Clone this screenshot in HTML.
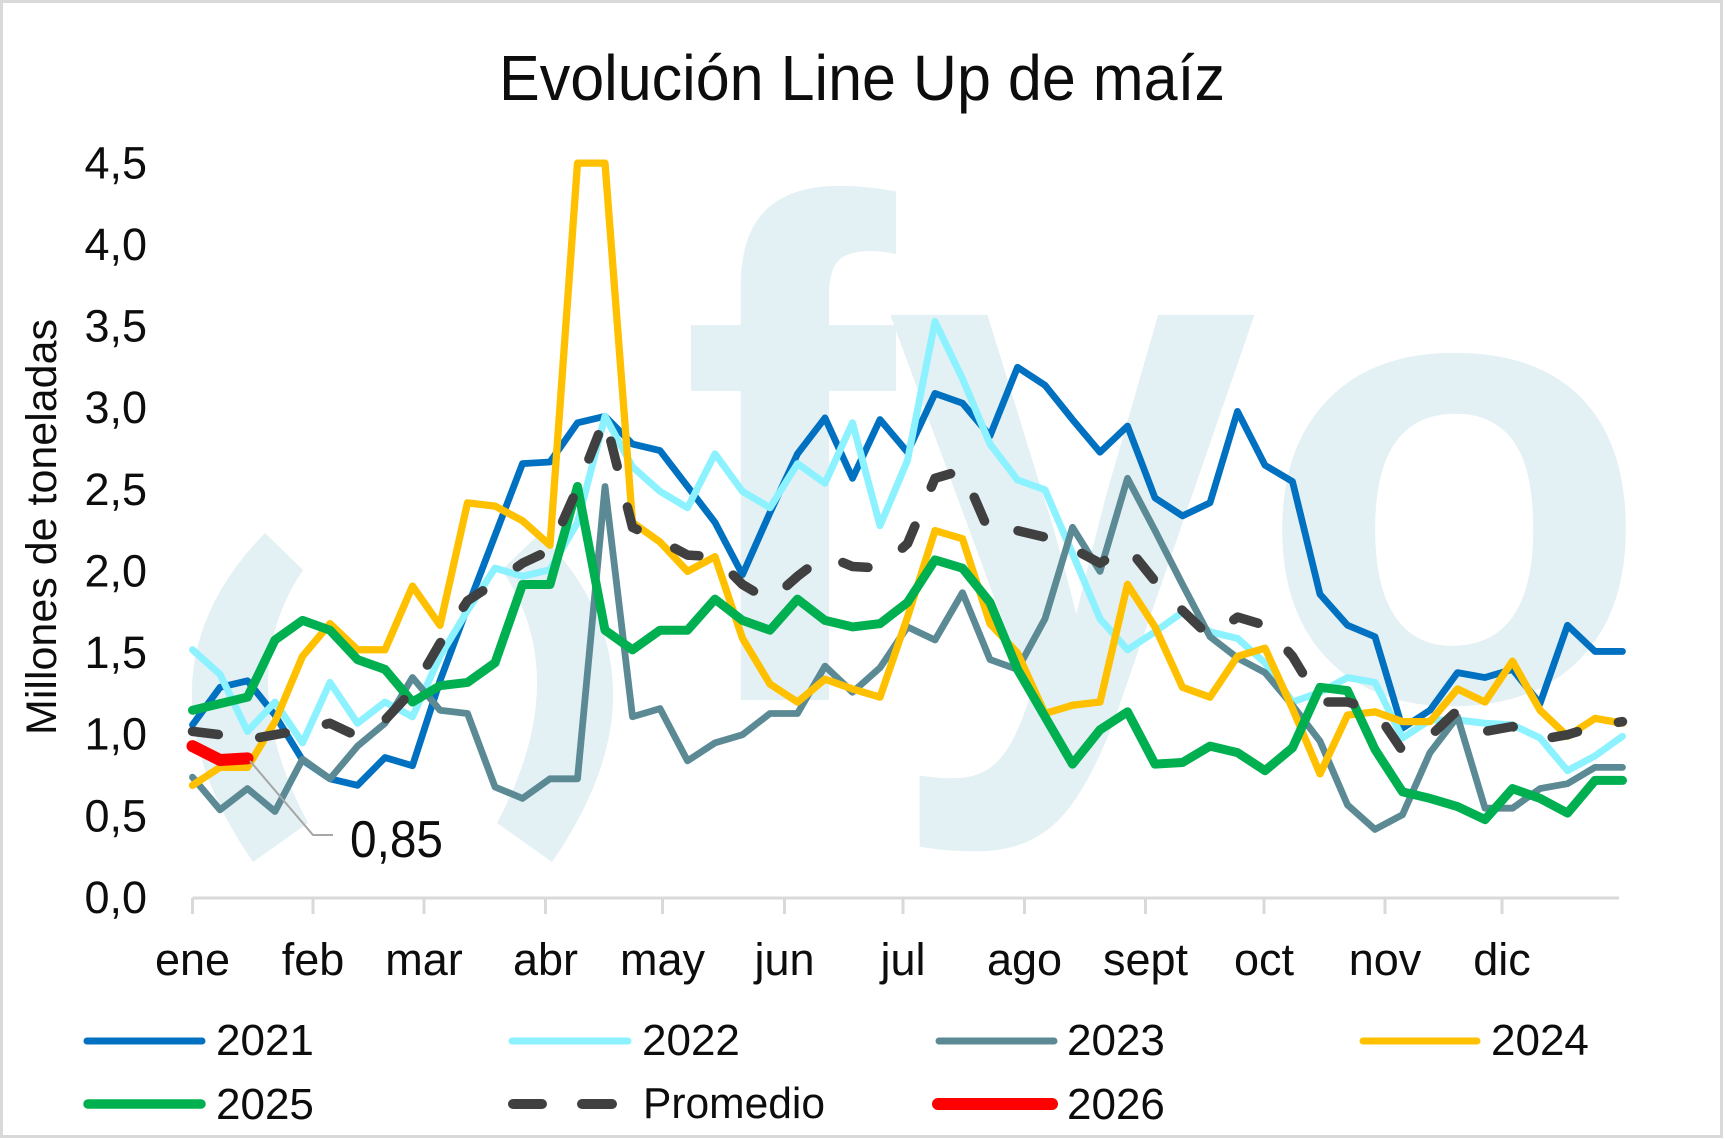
<!DOCTYPE html>
<html>
<head>
<meta charset="utf-8">
<style>
html,body{margin:0;padding:0;background:#fff;}
svg{display:block;}
text{font-family:"Liberation Sans","DejaVu Sans",sans-serif;fill:#0d0d0d;}
</style>
</head>
<body>
<svg width="1725" height="1139" viewBox="0 0 1725 1139" xmlns="http://www.w3.org/2000/svg">
<rect x="0" y="0" width="1725" height="1139" fill="#ffffff"/>
<rect x="1.5" y="1.5" width="1720" height="1135" fill="none" stroke="#D9D9D9" stroke-width="3"/>

<!-- watermark -->
<g fill="#E3F0F4">
  <path d="M265,533 Q125,676.5 253,862 L308,823 Q230.5,677.5 303,570 Z"/>
  <path d="M540,533 Q680,676.5 552,862 L497,823 Q574.5,677.5 502,570 Z"/>
  <text font-weight="bold" font-size="645" transform="translate(680,700) scale(1,1.1)" style="fill:#E3F0F4">f</text>
  <text font-weight="bold" font-size="645" transform="translate(885,700) scale(1.04,1.13)" style="fill:#E3F0F4">y</text>
  <text font-weight="bold" font-size="645" transform="translate(1257,700)" style="fill:#E3F0F4">o</text>
</g>

<!-- title -->
<text x="862" y="100" font-size="64" text-anchor="middle" textLength="726" lengthAdjust="spacingAndGlyphs">Evolución Line Up de maíz</text>

<!-- y axis title -->
<text transform="translate(56,527) rotate(-90)" x="0" y="0" font-size="43" text-anchor="middle" textLength="416" lengthAdjust="spacingAndGlyphs">Millones de toneladas</text>

<!-- y tick labels -->
<g font-size="45" text-anchor="end">
  <text x="147" y="913">0,0</text>
  <text x="147" y="831.4">0,5</text>
  <text x="147" y="749.7">1,0</text>
  <text x="147" y="668.1">1,5</text>
  <text x="147" y="586.4">2,0</text>
  <text x="147" y="504.8">2,5</text>
  <text x="147" y="423.2">3,0</text>
  <text x="147" y="341.5">3,5</text>
  <text x="147" y="259.9">4,0</text>
  <text x="147" y="178.3">4,5</text>
</g>

<!-- x axis -->
<g stroke="#D9D9D9" stroke-width="3">
  <line x1="192.5" y1="898" x2="1619" y2="898"/>
  <line x1="192.5" y1="898" x2="192.5" y2="914"/>
  <line x1="313" y1="898" x2="313" y2="914"/>
  <line x1="424" y1="898" x2="424" y2="914"/>
  <line x1="545.5" y1="898" x2="545.5" y2="914"/>
  <line x1="662.5" y1="898" x2="662.5" y2="914"/>
  <line x1="784.5" y1="898" x2="784.5" y2="914"/>
  <line x1="903" y1="898" x2="903" y2="914"/>
  <line x1="1024.5" y1="898" x2="1024.5" y2="914"/>
  <line x1="1145.5" y1="898" x2="1145.5" y2="914"/>
  <line x1="1264" y1="898" x2="1264" y2="914"/>
  <line x1="1385" y1="898" x2="1385" y2="914"/>
  <line x1="1502" y1="898" x2="1502" y2="914"/>
</g>
<g font-size="45" text-anchor="middle">
  <text x="192.5" y="975">ene</text>
  <text x="313" y="975">feb</text>
  <text x="424" y="975">mar</text>
  <text x="545.5" y="975">abr</text>
  <text x="662.5" y="975">may</text>
  <text x="784.5" y="975">jun</text>
  <text x="903" y="975">jul</text>
  <text x="1024.5" y="975">ago</text>
  <text x="1145.5" y="975">sept</text>
  <text x="1264" y="975">oct</text>
  <text x="1385" y="975">nov</text>
  <text x="1502" y="975">dic</text>
</g>

<!-- series -->
<g transform="translate(192.5,898) scale(27.5,-163.3)" fill="none" stroke-linejoin="round" stroke-linecap="round">
  <polyline vector-effect="non-scaling-stroke" stroke="#0070C0" stroke-width="6.8" points="0,1.06 1,1.29 2,1.33 3,1.12 4,0.845 5,0.73 6,0.69 7,0.86 8,0.81 9,1.33 10,1.78 11,2.22 12,2.66 13,2.67 14,2.91 15,2.95 16,2.78 17,2.74 18,2.52 19,2.30 20,1.98 21,2.36 22,2.72 23,2.94 24,2.57 25,2.93 26,2.73 27,3.09 28,3.03 29,2.83 30,3.25 31,3.14 32,2.93 33,2.73 34,2.89 35,2.45 36,2.34 37,2.42 38,2.98 39,2.65 40,2.55 41,1.86 42,1.67 43,1.60 44,1.04 45,1.15 46,1.38 47,1.35 48,1.40 49,1.19 50,1.67 51,1.51 52,1.51"/>
  <polyline vector-effect="non-scaling-stroke" stroke="#8CF2FF" stroke-width="7" points="0,1.52 1,1.37 2,1.02 3,1.20 4,0.95 5,1.32 6,1.07 7,1.20 8,1.11 9,1.48 10,1.76 11,2.02 12,1.97 13,2.01 14,2.30 15,2.95 16,2.64 17,2.49 18,2.39 19,2.72 20,2.49 21,2.39 22,2.66 23,2.54 24,2.91 25,2.28 26,2.68 27,3.53 28,3.18 29,2.78 30,2.56 31,2.50 32,2.11 33,1.71 34,1.52 35,1.63 36,1.75 37,1.63 38,1.59 39,1.44 40,1.20 41,1.26 42,1.35 43,1.32 44,0.98 45,1.09 46,1.09 47,1.07 48,1.06 49,0.98 50,0.78 51,0.87 52,0.99"/>
  <polyline vector-effect="non-scaling-stroke" stroke="#5B8A95" stroke-width="6.8" points="0,0.74 1,0.54 2,0.67 3,0.53 4,0.85 5,0.73 6,0.93 7,1.07 8,1.35 9,1.15 10,1.13 11,0.68 12,0.61 13,0.73 14,0.73 15,2.52 16,1.11 17,1.16 18,0.84 19,0.95 20,1.00 21,1.13 22,1.13 23,1.42 24,1.26 25,1.41 26,1.66 27,1.58 28,1.87 29,1.46 30,1.40 31,1.71 32,2.27 33,2.00 34,2.57 35,2.25 36,1.92 37,1.60 38,1.47 39,1.38 40,1.18 41,0.96 42,0.57 43,0.42 44,0.51 45,0.89 46,1.11 47,0.55 48,0.55 49,0.67 50,0.70 51,0.80 52,0.80"/>
  <polyline vector-effect="non-scaling-stroke" stroke="#FFC000" stroke-width="7.3" points="0,0.69 1,0.80 2,0.80 3,1.08 4,1.48 5,1.68 6,1.52 7,1.52 8,1.91 9,1.67 10,2.42 11,2.40 12,2.31 13,2.16 14,4.5 15,4.5 16,2.30 17,2.18 18,2.00 19,2.09 20,1.59 21,1.31 22,1.20 23,1.34 24,1.28 25,1.23 26,1.72 27,2.25 28,2.20 29,1.68 30,1.50 31,1.13 32,1.18 33,1.20 34,1.92 35,1.66 36,1.29 37,1.23 38,1.48 39,1.53 40,1.16 41,0.76 42,1.12 43,1.14 44,1.08 45,1.08 46,1.28 47,1.20 48,1.45 49,1.15 50,0.99 51,1.10 52,1.07"/>
  <polyline vector-effect="non-scaling-stroke" stroke="#00B050" stroke-width="9" points="0,1.15 1,1.19 2,1.23 3,1.58 4,1.70 5,1.64 6,1.46 7,1.40 8,1.20 9,1.30 10,1.32 11,1.44 12,1.92 13,1.92 14,2.52 15,1.64 16,1.52 17,1.64 18,1.64 19,1.83 20,1.70 21,1.64 22,1.83 23,1.70 24,1.66 25,1.68 26,1.81 27,2.07 28,2.02 29,1.81 30,1.40 31,1.11 32,0.82 33,1.03 34,1.14 35,0.82 36,0.83 37,0.93 38,0.89 39,0.78 40,0.92 41,1.29 42,1.27 43,0.91 44,0.65 45,0.61 46,0.56 47,0.48 48,0.67 49,0.61 50,0.52 51,0.72 52,0.72"/>
</g>

<!-- promedio (pixel coords) -->
<polyline fill="none" stroke="#404040" stroke-width="9.5" stroke-linecap="round" stroke-linejoin="round" stroke-dasharray="26 42" points="192.5,731.4 220,734.7 247.5,739.6 275,734.7 302.5,729.8 330,723.3 357.5,736.3 385,720 412.5,690.6 440,643.3 467.5,600.8 495,582.8 522.5,563.2 550,550.2 577.5,488.1 605,417.9 632.5,527.3 660,540.4 687.5,555.1 715,556.7 742.5,584.5 770,600.8 797.5,576.3 825,555.1 852.5,566.5 880,568.1 907.5,543.6 935,478.3 962.5,470.1 990,533.8 1017.5,530.6 1045,537.1 1072.5,548.5 1100,563.2 1127.5,546.9 1155,581.2 1182.5,610.6 1210,636.7 1237.5,617.1 1265,625.3 1292.5,656.3 1320,702 1347.5,702 1375,710.2 1402.5,751 1430,736.3 1457.5,710.2 1485,731.4 1512.5,726.5 1540,739.6 1567.5,734.7 1595,726.5 1622.5,721.6"/>

<!-- 2026 -->
<polyline fill="none" stroke="#FF0000" stroke-width="12" stroke-linecap="round" stroke-linejoin="round" points="192.5,746.1 220,760 247.5,758.4"/>

<!-- data label -->
<polyline fill="none" stroke="#A6A6A6" stroke-width="2" points="250,761 313,835 333,835"/>
<text x="350" y="857" font-size="52" textLength="93" lengthAdjust="spacingAndGlyphs">0,85</text>

<!-- legend -->
<g stroke-linecap="round" fill="none">
  <line x1="87" y1="1041" x2="202" y2="1041" stroke="#0070C0" stroke-width="7"/>
  <line x1="512" y1="1041" x2="628" y2="1041" stroke="#8CF2FF" stroke-width="7"/>
  <line x1="939" y1="1041" x2="1054" y2="1041" stroke="#5B8A95" stroke-width="7"/>
  <line x1="1363" y1="1041" x2="1477" y2="1041" stroke="#FFC000" stroke-width="7"/>
  <line x1="88" y1="1104" x2="201" y2="1104" stroke="#00B050" stroke-width="9.5"/>
  <line x1="513" y1="1104" x2="542" y2="1104" stroke="#404040" stroke-width="10"/>
  <line x1="582" y1="1104" x2="612" y2="1104" stroke="#404040" stroke-width="10"/>
  <line x1="938" y1="1104" x2="1052" y2="1104" stroke="#FF0000" stroke-width="12"/>
</g>
<g font-size="44">
  <text x="216" y="1055">2021</text>
  <text x="642" y="1055">2022</text>
  <text x="1067" y="1055">2023</text>
  <text x="1491" y="1055">2024</text>
  <text x="216" y="1119">2025</text>
  <text x="643" y="1118" textLength="182" lengthAdjust="spacingAndGlyphs">Promedio</text>
  <text x="1067" y="1119">2026</text>
</g>
</svg>
</body>
</html>
